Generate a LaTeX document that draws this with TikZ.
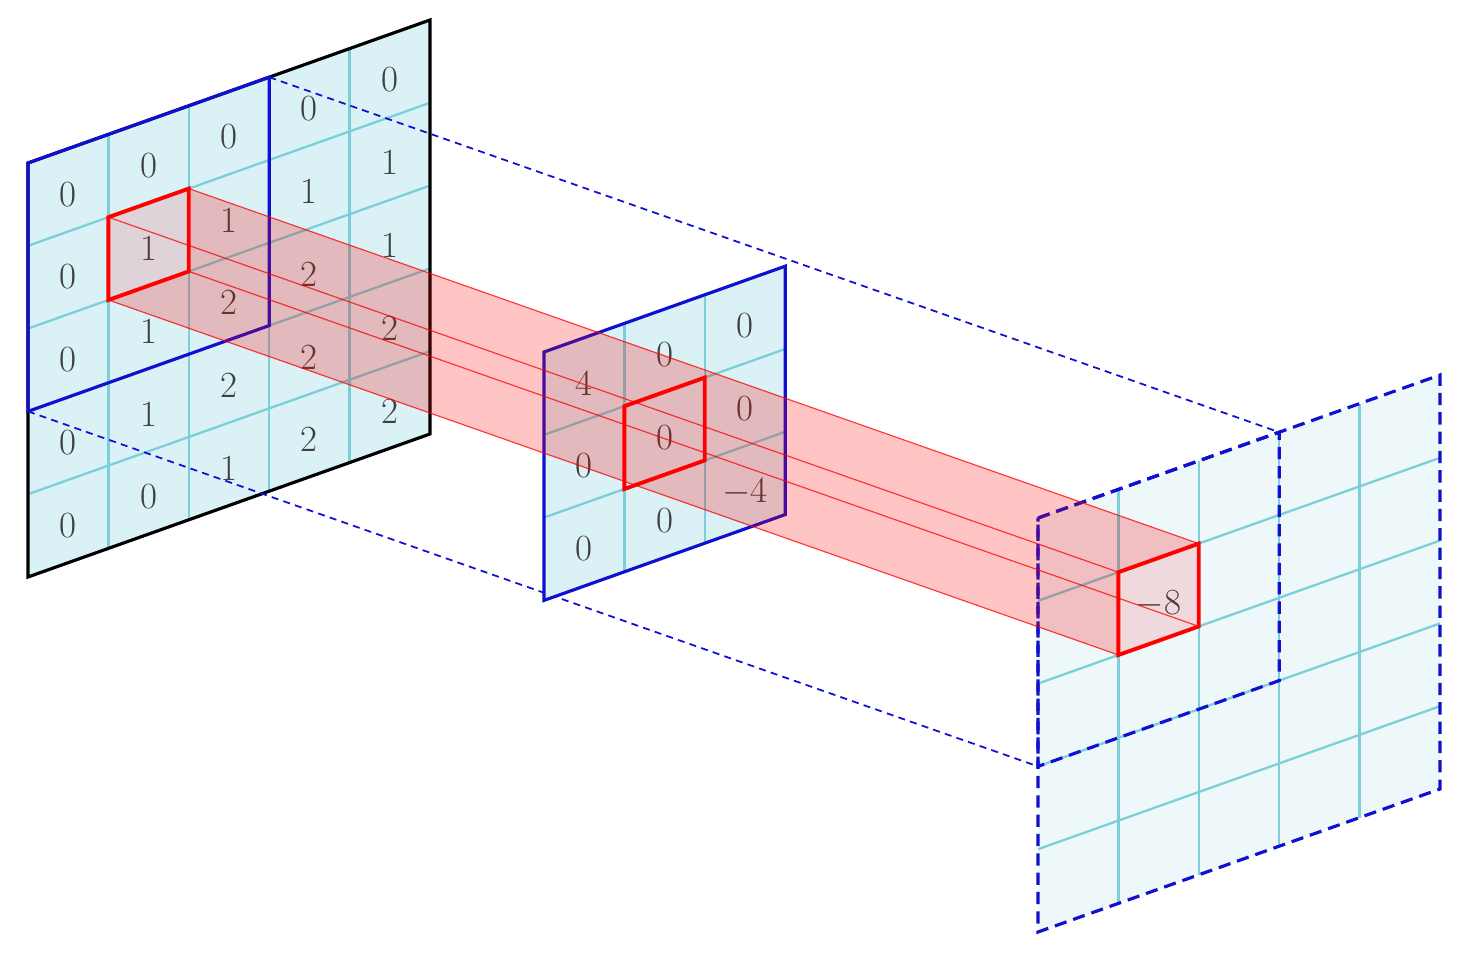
\documentclass[tikz,border=0pt]{standalone}
\begin{document}
\begin{tikzpicture}
\definecolor{gl}{HTML}{7CCFD9}
\definecolor{fillA}{HTML}{DAF1F6}
\definecolor{fillB}{HTML}{EEF8FB}
\definecolor{bl}{HTML}{1010D0}
\tikzset{
 gridsys/.style={x={(1.608cm,0.572cm)},y={(0,-1.656cm)}},
 num/.style={font=\fontsize{21}{24}\selectfont,text=black!75},
 redsq/.style={draw=red,line width=2.2pt,line join=miter},
 face/.style={fill=red,fill opacity=0.12,draw=red,draw opacity=0.5,line width=0.6pt},
}
\newcommand\quadr[2]{(0,0)--(#1,0)--(#1,#2)--(0,#2)--cycle}
\useasboundingbox (0,0) rectangle (29.38,-19.18);
% left grid
\begin{scope}[shift={(0.56,-3.26)},gridsys]
 \fill[fillA] \quadr{5}{5};
 \foreach \k in {1,...,4}{\draw[gl,line width=1.3pt] (\k,0)--(\k,5); \draw[gl,line width=1.3pt] (0,\k)--(5,\k);}
 \draw[black,line width=1.8pt] \quadr{5}{5};
 \draw[bl,line width=1.8pt] \quadr{3}{3};
 \foreach \r/\row in {0/{0,0,0,0,0},1/{0,1,1,1,1},2/{0,1,2,2,1},3/{0,1,2,2,2},4/{0,0,1,2,2}}{
   \foreach \v [count=\c from 0] in \row { \node[num] at (\c+0.5,\r+0.55) {\v}; } }
 \coordinate (L1) at (1,1); \coordinate (L2) at (2,1); \coordinate (L3) at (2,2); \coordinate (L4) at (1,2);
 \coordinate (LA) at (3,0); \coordinate (LB) at (0,3);
\end{scope}
% right grid
\begin{scope}[shift={(20.76,-10.36)},gridsys]
 \fill[fillB] \quadr{5}{5};
 \foreach \k in {1,...,4}{\draw[gl,line width=1.3pt] (\k,0)--(\k,5); \draw[gl,line width=1.3pt] (0,\k)--(5,\k);}
 \draw[bl,line width=1.8pt,dash pattern=on 7pt off 4pt] \quadr{5}{5};
 \draw[bl,line width=1.8pt,dash pattern=on 7pt off 4pt] \quadr{3}{3};
 \coordinate (R1) at (1,1); \coordinate (R2) at (2,1); \coordinate (R3) at (2,2); \coordinate (R4) at (1,2);
 \coordinate (RA) at (3,0); \coordinate (RB) at (0,3);
 \node[num] (m8) at (1.5,1.55) {$-$8};
\end{scope}
\draw[bl,line width=1pt,dash pattern=on 4pt off 3pt] (LA)--(RA);
\draw[bl,line width=1pt,dash pattern=on 4pt off 3pt] (LB)--(RB);
% middle grid
\begin{scope}[shift={(10.88,-7.04)},gridsys]
 \fill[fillA] \quadr{3}{3};
 \foreach \k in {1,2}{\draw[gl,line width=1.3pt] (\k,0)--(\k,3); \draw[gl,line width=1.3pt] (0,\k)--(3,\k);}
 \draw[bl,line width=1.8pt] \quadr{3}{3};
 \foreach \r/\row in {0/{4,0,0},1/{0,0,0},2/{0,0,$-$4}}{
   \foreach \v [count=\c from 0] in \row { \node[num] at (\c+0.5,\r+0.55) {\v}; } }
\end{scope}
% beam
\draw[face] (L1)--(L2)--(R2)--(R1)--cycle;
\draw[face] (L2)--(L3)--(R3)--(R2)--cycle;
\draw[face] (L3)--(L4)--(R4)--(R3)--cycle;
\draw[face] (L4)--(L1)--(R1)--(R4)--cycle;
\draw[redsq] (L1)--(L2)--(L3)--(L4)--cycle;
\draw[redsq] (R1)--(R2)--(R3)--(R4)--cycle;
\begin{scope}[shift={(10.88,-7.04)},gridsys]
 \draw[redsq] (1,1)--(2,1)--(2,2)--(1,2)--cycle;
\end{scope}
\end{tikzpicture}
\end{document}
